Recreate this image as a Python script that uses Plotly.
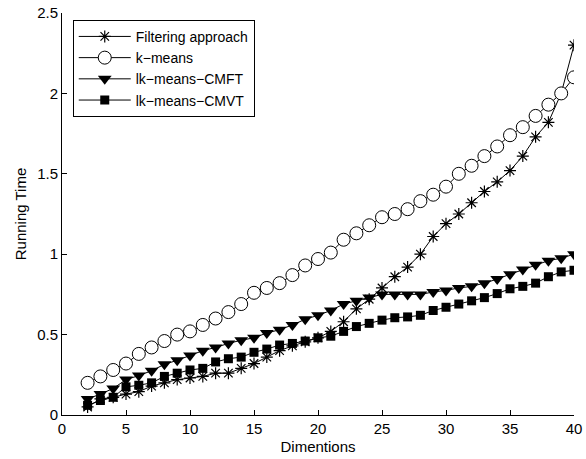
import plotly.graph_objects as go

dims = list(range(2, 41))

filtering = [0.05, 0.10, 0.11, 0.13, 0.145, 0.18, 0.20, 0.22, 0.23, 0.24, 0.26, 0.26, 0.29, 0.32,
             0.36, 0.40, 0.43, 0.455, 0.48, 0.52, 0.58, 0.66, 0.72, 0.79, 0.86, 0.92, 1.00, 1.11,
             1.19, 1.25, 1.32, 1.39, 1.45, 1.52, 1.61, 1.73, 1.82, 2.00, 2.30]

kmeans = [0.20, 0.24, 0.28, 0.32, 0.38, 0.42, 0.46, 0.50, 0.52, 0.56, 0.60, 0.64, 0.69, 0.76,
          0.79, 0.82, 0.87, 0.93, 0.97, 1.01, 1.09, 1.13, 1.18, 1.23, 1.25, 1.28, 1.33, 1.37,
          1.42, 1.50, 1.55, 1.61, 1.67, 1.74, 1.79, 1.86, 1.93, 2.00, 2.10]

cmft = [0.10, 0.13, 0.165, 0.22, 0.245, 0.275, 0.315, 0.34, 0.37, 0.40, 0.42, 0.445, 0.465, 0.48,
        0.51, 0.53, 0.56, 0.595, 0.62, 0.65, 0.69, 0.71, 0.73, 0.75, 0.75, 0.75, 0.75, 0.765,
        0.775, 0.79, 0.80, 0.82, 0.845, 0.875, 0.905, 0.935, 0.96, 0.975, 1.00]

cmvt = [0.06, 0.09, 0.11, 0.175, 0.185, 0.20, 0.24, 0.26, 0.28, 0.29, 0.33, 0.35, 0.36, 0.39,
        0.41, 0.435, 0.445, 0.46, 0.48, 0.49, 0.52, 0.55, 0.57, 0.59, 0.605, 0.61, 0.62, 0.65,
        0.67, 0.69, 0.71, 0.73, 0.755, 0.785, 0.80, 0.82, 0.86, 0.89, 0.90]

series_names = ["Filtering approach", "k\u2212means", "lk\u2212means\u2212CMFT", "lk\u2212means\u2212CMVT"]

FONT = "Liberation Sans, Arial, sans-serif"
FS = 15

fig = go.Figure()
fig.add_trace(go.Scatter(x=dims, y=filtering, name=series_names[0], mode="lines+markers",
                         line=dict(color="black", width=1),
                         marker=dict(symbol="asterisk-open", size=10, color="black",
                                     line=dict(color="black", width=1.2))))
fig.add_trace(go.Scatter(x=dims, y=kmeans, name=series_names[1], mode="lines+markers",
                         line=dict(color="black", width=1),
                         marker=dict(symbol="circle", size=13, color="white",
                                     line=dict(color="black", width=1))))
fig.add_trace(go.Scatter(x=dims, y=cmft, name=series_names[2], mode="lines+markers",
                         line=dict(color="black", width=1),
                         marker=dict(symbol="triangle-down", size=12, color="black",
                                     line=dict(color="black", width=0))))
fig.add_trace(go.Scatter(x=dims, y=cmvt, name=series_names[3], mode="lines+markers",
                         line=dict(color="black", width=1),
                         marker=dict(symbol="square", size=9, color="black",
                                     line=dict(color="black", width=0))))

fig.update_layout(
    width=586, height=459,
    margin=dict(l=62, r=12, t=13, b=44, autoexpand=False),
    plot_bgcolor="white", paper_bgcolor="white",
    font=dict(family=FONT, size=FS, color="black"),
    showlegend=True,
    legend=dict(x=0.021, y=0.983, xanchor="left", yanchor="top",
                bgcolor="white", bordercolor="black", borderwidth=1,
                font=dict(family=FONT, size=14, color="black"),
                itemwidth=52, tracegroupgap=0,
                traceorder="normal"),
    xaxis=dict(range=[0, 40], tickvals=[0, 5, 10, 15, 20, 25, 30, 35, 40],
               showline=True, linecolor="black", linewidth=1,
               ticks="inside", ticklen=5, tickcolor="black",
               showgrid=False, zeroline=False, automargin=False,
               title=dict(text="Dimentions", font=dict(size=FS), standoff=5),
               tickfont=dict(size=FS)),
    yaxis=dict(range=[0, 2.5], tickvals=[0, 0.5, 1, 1.5, 2, 2.5],
               ticktext=["0", "0.5", "1", "1.5", "2", "2.5"],
               showline=True, linecolor="black", linewidth=1,
               ticks="inside", ticklen=5, tickcolor="black",
               showgrid=False, zeroline=False, automargin=False,
               title=dict(text="Running Time", font=dict(size=FS), standoff=6),
               tickfont=dict(size=FS)),
)

fig.write_html("out.html", config={"displayModeBar": False},
               post_script="document.body.style.margin='0';")
